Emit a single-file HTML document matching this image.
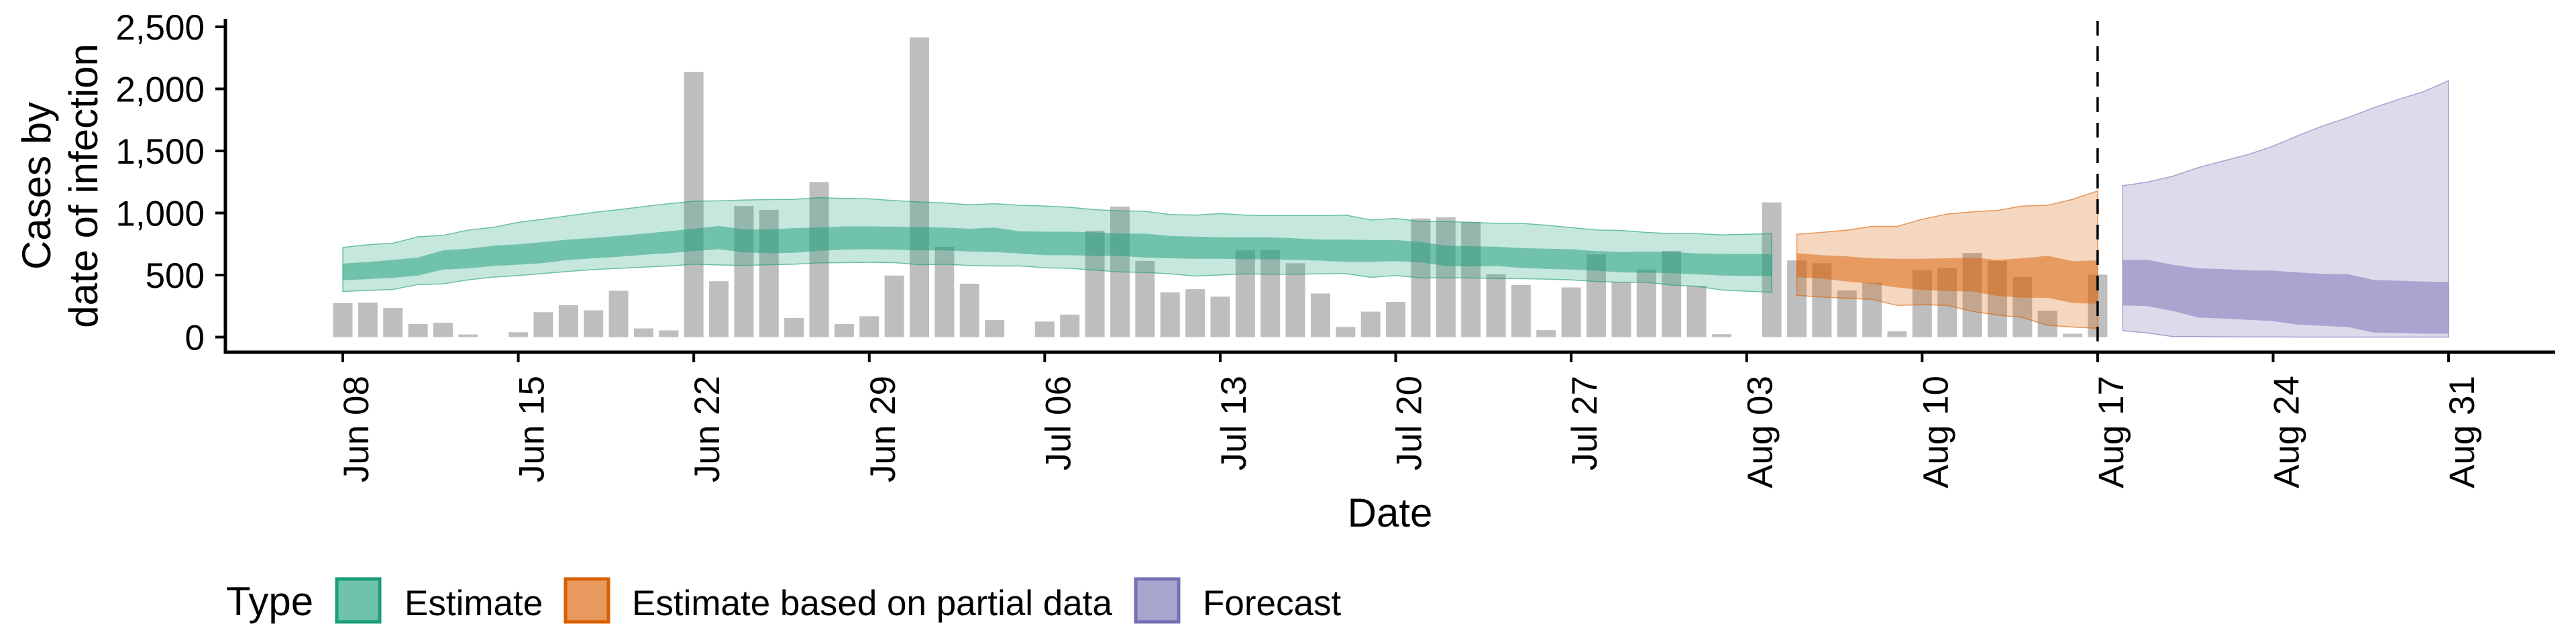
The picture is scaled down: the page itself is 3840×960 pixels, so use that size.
<!DOCTYPE html>
<html><head><meta charset="utf-8"><style>
html,body{margin:0;padding:0;background:#fff}
svg{display:block;font-family:"Liberation Sans",Arial,sans-serif}
</style></head><body>
<svg id="chart" width="3840" height="960" viewBox="0 0 3840 960" xmlns="http://www.w3.org/2000/svg">
<g id="bars"></g>
<g id="ribbons"></g>
<g id="axes"></g>
<text transform="translate(75,277) rotate(-90)" text-anchor="middle" font-size="60">Cases by</text>
<text transform="translate(145,277) rotate(-90)" text-anchor="middle" font-size="60">date of infection</text>
<text x="2072" y="785" text-anchor="middle" font-size="60">Date</text>
<g>
<text x="337" y="917" font-size="60">Type</text>
<g>
<rect x="502" y="863" width="64" height="64" fill="#6fc3aa" stroke="#1b9e77" stroke-width="5"/>
<text x="603" y="917" font-size="53">Estimate</text></g>
<g>
<rect x="843" y="863" width="64" height="64" fill="#e8995d" stroke="#d95f02" stroke-width="5"/>
<text x="942" y="917" font-size="53">Estimate based on partial data</text></g>
<g>
<rect x="1693" y="863" width="64" height="64" fill="#a8a5cf" stroke="#7570b3" stroke-width="5"/>
<text x="1793" y="917" font-size="53">Forecast</text></g>
</g>
</svg>
<script>
const tickLabels=["Jun 08","Jun 15","Jun 22","Jun 29","Jul 06","Jul 13","Jul 20","Jul 27","Aug 03","Aug 10","Aug 17","Aug 24","Aug 31"];
const yTicks=[0,500,1000,1500,2000,2500];
const yTickLabels=["0","500","1,000","1,500","2,000","2,500"];
const cases=[274,278,234,106,116,21,0,39,201,257,216,373,70,54,2137,450,1056,1025,154,1249,106,168,496,2415,728,430,137,0,125,181,857,1052,614,361,386,326,699,701,595,351,81,205,284,956,965,927,506,419,56,400,666,444,544,695,413,23,0,1085,618,595,376,438,46,541,558,678,614,485,212,27,504];
const estStart=0;
const estOuterHi=[722,745,757,808,820,862,885,925,950,978,1005,1027,1052,1075,1095,1098,1105,1108,1110,1124,1118,1114,1100,1089,1081,1066,1075,1062,1056,1046,1027,1017,1014,988,983,995,983,979,979,979,983,944,956,931,931,925,917,917,902,882,863,859,844,834,834,824,828,834];
const estInnerHi=[593,605,622,641,699,712,737,747,766,786,799,815,834,853,873,896,867,867,878,882,892,892,890,886,882,873,882,853,849,849,844,834,834,815,809,805,805,805,795,786,786,782,782,766,737,732,728,718,712,708,693,685,689,685,674,670,670,670];
const estInnerLo=[458,467,477,496,544,554,573,583,597,622,635,647,664,676,693,708,683,676,680,695,705,708,705,699,699,689,685,674,660,660,654,654,641,635,631,631,627,627,622,616,606,606,612,602,573,569,573,558,550,544,535,521,519,515,506,496,493,490];
const estOuterLo=[367,376,384,423,429,461,483,496,512,529,544,554,564,573,587,581,577,583,587,598,600,602,600,583,587,577,573,573,558,554,539,525,521,510,492,500,510,506,506,510,512,481,496,477,477,477,471,471,467,461,448,442,442,419,409,380,370,361];
const partStart=58;
const partOuterHi=[828,844,862,892,892,950,992,1009,1021,1056,1062,1110,1178];
const partInnerHi=[676,660,651,635,631,631,635,641,622,635,655,612,618];
const partInnerLo=[483,471,448,429,400,380,371,367,332,317,317,274,268];
const partOuterLo=[336,322,313,303,255,261,255,207,178,158,95,81,71];
const fcStart=71;
const fcOuterHi=[1220,1249,1297,1365,1419,1471,1539,1625,1703,1770,1847,1915,1978,2066];
const fcInnerHi=[622,622,583,554,548,538,535,521,510,506,461,454,448,444];
const fcInnerLo=[255,249,210,158,149,139,129,100,91,81,37,33,27,27];
const fcOuterLo=[52,33,4,4,2,1,1,0,0,0,0,0,0,0];
const forecastDay=70;

const NS="http://www.w3.org/2000/svg";
const X0=511, DAY=37.37, Y0=502.5, YK=462.5/2500;
const xs=d=>X0+d*DAY;
const ys=v=>Y0-v*YK;
function mk(tag,attrs,parent){const e=document.createElementNS(NS,tag);for(const k in attrs)e.setAttribute(k,attrs[k]);parent.appendChild(e);return e;}

const barsG=document.getElementById('bars');
cases.forEach((v,i)=>{
  const r=mk('rect',{x:xs(i)-14.5,y:ys(v),width:29,height:Math.max(0,Y0-ys(v)),fill:'#bebebe'},barsG);
  
  
});

const ribG=document.getElementById('ribbons');
function ribbon(start,lo,hi,color,op,name,stroke){
  let pts=[];
  hi.forEach((v,i)=>pts.push(xs(start+i).toFixed(1)+','+ys(v).toFixed(1)));
  for(let i=lo.length-1;i>=0;i--)pts.push(xs(start+i).toFixed(1)+','+ys(lo[i]).toFixed(1));
  const p=mk('polygon',{points:pts.join(' '),fill:color,'fill-opacity':op},ribG);
  if(stroke){p.setAttribute('stroke',color);p.setAttribute('stroke-opacity','0.6');p.setAttribute('stroke-width','1.5');}
  
  
}
ribbon(estStart,estOuterLo,estOuterHi,'#1b9e77',0.25,'estimate-outer-band',true);
ribbon(estStart,estInnerLo,estInnerHi,'#1b9e77',0.5,'estimate-inner-band',false);
ribbon(partStart,partOuterLo,partOuterHi,'#d95f02',0.25,'partial-outer-band',true);
ribbon(partStart,partInnerLo,partInnerHi,'#d95f02',0.5,'partial-inner-band',false);
ribbon(fcStart,fcOuterLo,fcOuterHi,'#7570b3',0.25,'forecast-outer-band',true);
ribbon(fcStart,fcInnerLo,fcInnerHi,'#7570b3',0.5,'forecast-inner-band',false);

const ax=document.getElementById('axes');
const dl=mk('line',{x1:xs(forecastDay),x2:xs(forecastDay),y1:31,y2:525,stroke:'#000','stroke-width':3.5,'stroke-dasharray':'22 16'},ax);


const ya=mk('line',{x1:336,x2:336,y1:28,y2:527.5,stroke:'#000','stroke-width':5},ax);


const xa=mk('line',{x1:333.5,x2:3809,y1:525,y2:525,stroke:'#000','stroke-width':5},ax);


yTicks.forEach((v,i)=>{
  const t=mk('line',{x1:321,x2:336,y1:ys(v),y2:ys(v),stroke:'#000','stroke-width':4},ax);
  
  
  const l=mk('text',{x:305,y:ys(v)+19,'text-anchor':'end','font-size':53},ax);
  l.textContent=yTickLabels[i];
  
  
});
tickLabels.forEach((s,i)=>{
  const x=xs(i*7);
  const t=mk('line',{x1:x,x2:x,y1:525,y2:540,stroke:'#000','stroke-width':4},ax);
  
  
  const l=mk('text',{transform:`translate(${(x+38).toFixed(1)},560) rotate(-90)`,'text-anchor':'end','font-size':53},ax);
  l.textContent=s;
  
  
});
</script>
</body></html>
